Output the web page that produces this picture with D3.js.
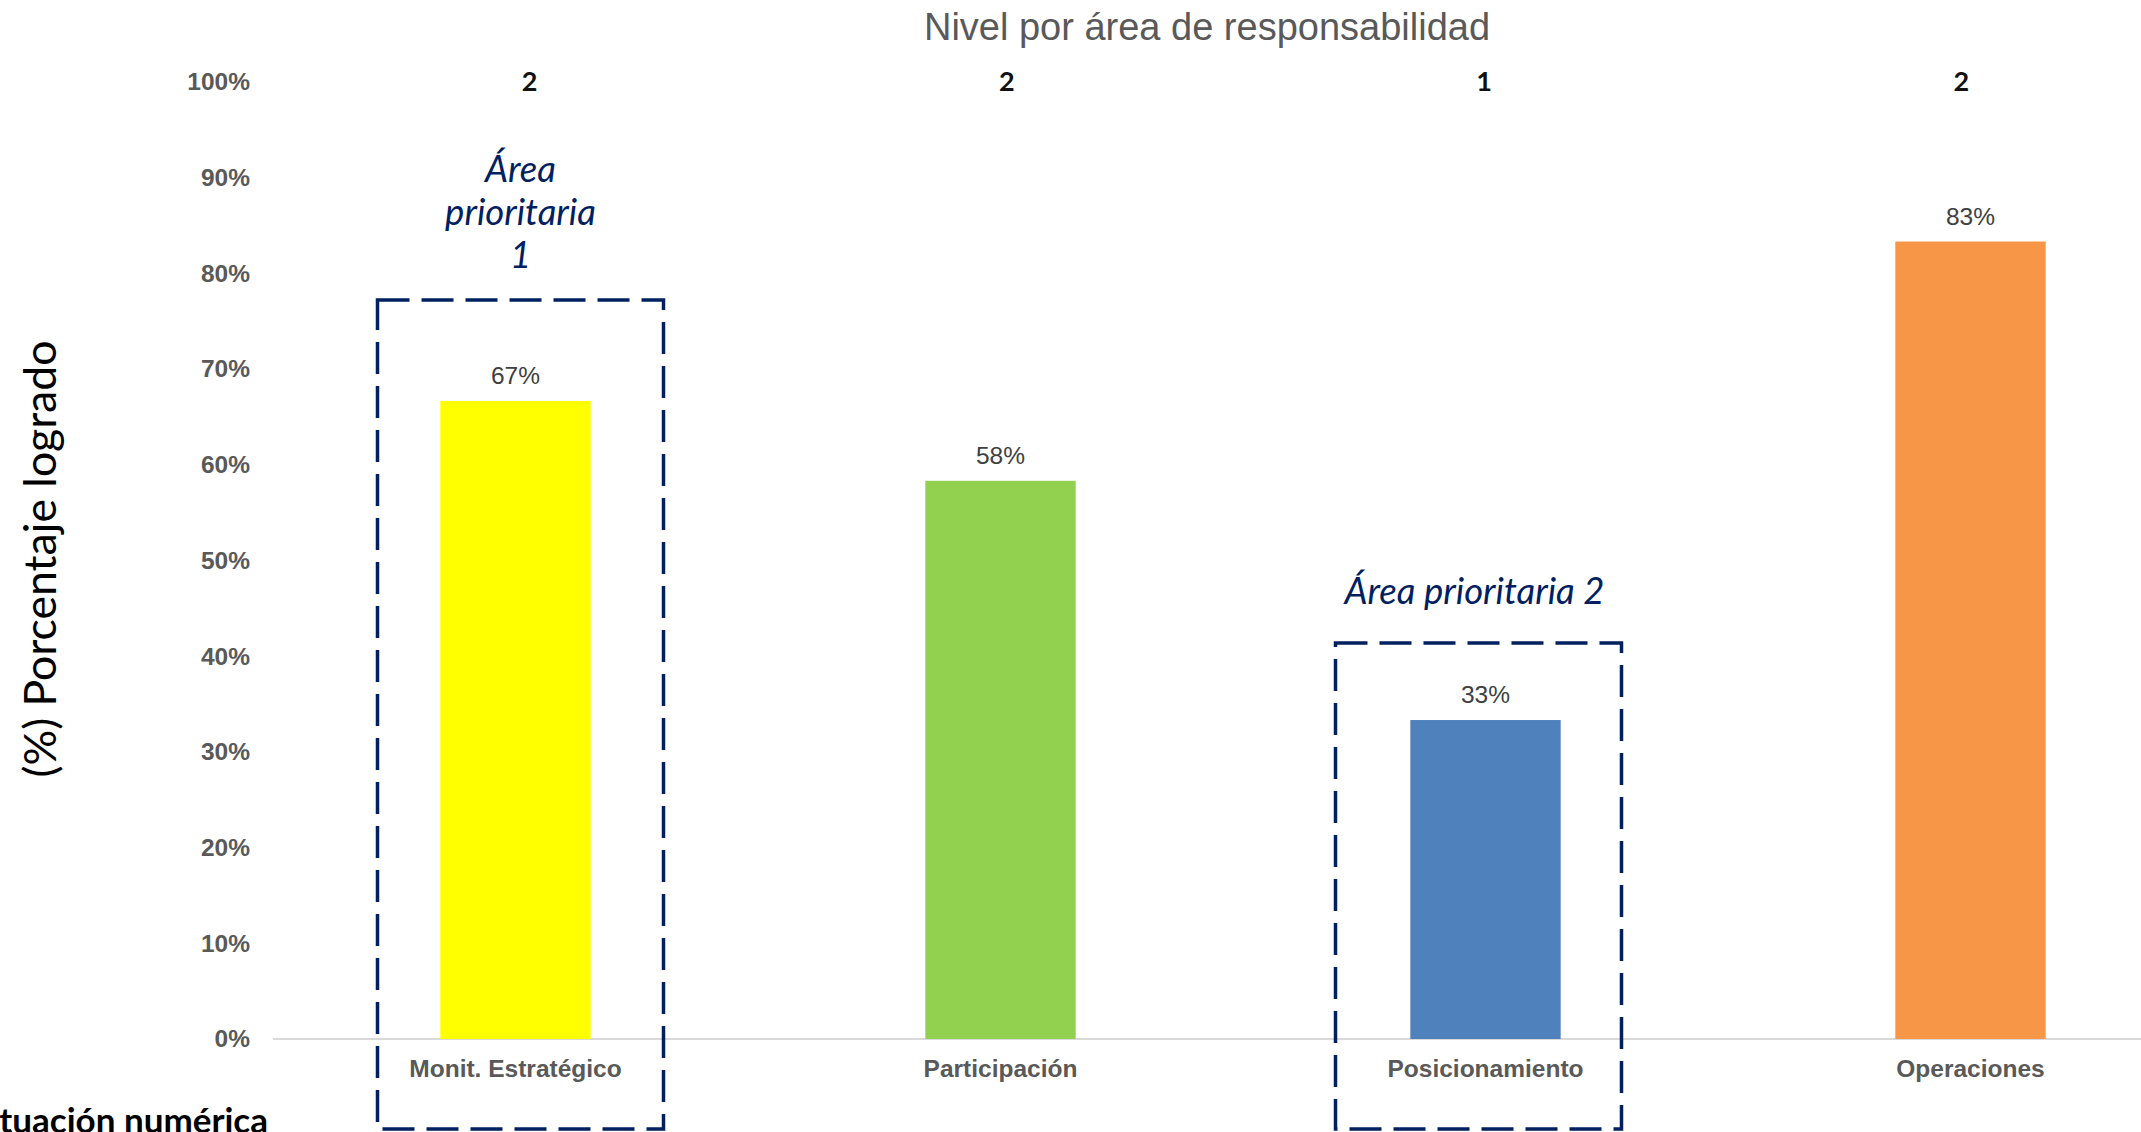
<html>
	<head>
		<meta charset="UTF-8">
		<title>Nivel por área de responsabilidad</title>
		<script src="https://d3js.org/d3.v7.min.js"></script>
		<style>html,body{width:100%;height:100%;margin:0;padding:0;overflow:hidden;background:#fff;}</style>
	</head>
	<body>
		<div id="container"></div>
		<script>
            // datos
            const categories = ['Monit. Estratégico', 'Participación', 'Posicionamiento', 'Operaciones']
            const values = [0.6667, 0.5833, 0.3333, 0.8333]
            const levels = ['2', '2', '1', '2']
            const colors = ['#ffff00', '#92d050', '#4f81bd', '#f79646']
            const yTicks = [0, 0.1, 0.2, 0.3, 0.4, 0.5, 0.6, 0.7, 0.8, 0.9, 1]
            const priorityAreas = [
                { cat: 'Monit. Estratégico', lines: ['Área', 'prioritaria', '1'] },
                { cat: 'Posicionamiento', lines: ['Área prioritaria 2'] }
            ]

            const width = 2141, height = 1132
            const chartFont = '"Liberation Sans", Arial, sans-serif'
            const noteFont = 'Lato, "Open Sans", sans-serif'

            let svg = d3.select('#container').append('svg')
                .attr('width', width)
                .attr('height', height)

            let x = d3.scaleBand()
                .domain(categories)
                .range([273, 2213])
                .paddingInner(0.69)
                .paddingOuter(0.345)

            // los números de nivel van en una tabla aparte, algo más estrecha
            let xLevel = d3.scaleBand()
                .domain(categories)
                .range([291, 2200])

            let y = d3.scaleLinear()
                .domain([0, 1])
                .range([1039, 82])

            // título
            svg.append('text')
                .attr('x', 1207).attr('y', 40)
                .attr('text-anchor', 'middle')
                .style('font-family', chartFont)
                .style('font-size', '38px')
                .style('fill', '#595959')
                .text('Nivel por área de responsabilidad')

            // eje y
            let yAxis = svg.append('g')
                .attr('transform', 'translate(250,0)')
                .call(d3.axisLeft(y).tickValues(yTicks).tickSize(0).tickPadding(0).tickFormat(d3.format('.0%')))
            yAxis.select('.domain').remove()
            yAxis.selectAll('text')
                .style('font-family', chartFont)
                .style('font-size', '24.5px')
                .style('font-weight', 'bold')
                .style('fill', '#595959')

            // línea base
            svg.append('line')
                .attr('x1', 273).attr('x2', width)
                .attr('y1', y(0)).attr('y2', y(0))
                .attr('stroke', '#d9d9d9')
                .attr('stroke-width', 2)

            // barras
            svg.selectAll('.bar')
                .data(categories)
                .enter()
                .append('rect')
                .attr('class', 'bar')
                .attr('x', d => x(d))
                .attr('width', x.bandwidth())
                .attr('y', (d, i) => y(values[i]))
                .attr('height', (d, i) => y(0) - y(values[i]))
                .attr('fill', (d, i) => colors[i])

            // etiquetas de datos
            svg.selectAll('.vlabel')
                .data(categories)
                .enter()
                .append('text')
                .attr('class', 'vlabel')
                .attr('x', d => x(d) + x.bandwidth() / 2)
                .attr('y', (d, i) => y(values[i]) - 17)
                .attr('text-anchor', 'middle')
                .style('font-family', chartFont)
                .style('font-size', '24.5px')
                .style('fill', '#404040')
                .text((d, i) => d3.format('.0%')(values[i]))

            // categorías
            svg.selectAll('.clabel')
                .data(categories)
                .enter()
                .append('text')
                .attr('class', 'clabel')
                .attr('x', d => x(d) + x.bandwidth() / 2)
                .attr('y', 1077)
                .attr('text-anchor', 'middle')
                .style('font-family', chartFont)
                .style('font-size', '24.5px')
                .style('font-weight', 'bold')
                .style('fill', '#595959')
                .text(d => d)

            // nivel arriba
            svg.selectAll('.level')
                .data(categories)
                .enter()
                .append('text')
                .attr('class', 'level')
                .attr('x', d => xLevel(d) + xLevel.bandwidth() / 2)
                .attr('y', 91)
                .attr('text-anchor', 'middle')
                .style('font-family', noteFont)
                .style('font-size', '27px')
                .style('font-weight', 'bold')
                .style('fill', '#111')
                .text((d, i) => levels[i])

            // título eje y
            svg.append('text')
                .attr('transform', 'translate(56,559) rotate(-90)')
                .attr('text-anchor', 'middle')
                .attr('textLength', 437)
                .attr('lengthAdjust', 'spacingAndGlyphs')
                .style('font-family', noteFont)
                .style('font-size', '44px')
                .style('fill', '#000')
                .text('(%) Porcentaje logrado')

            // áreas prioritarias
            const boxTops = [300, 643]
            const boxDx = [5, -7]
            priorityAreas.forEach((a, k) => {
                let cx = x(a.cat) + x.bandwidth() / 2 + boxDx[k]
                svg.append('rect')
                    .attr('x', cx - 143).attr('y', boxTops[k])
                    .attr('width', 286).attr('height', 1129 - boxTops[k])
                    .attr('fill', 'none')
                    .attr('stroke', '#002060')
                    .attr('stroke-width', 3.5)
                    .attr('stroke-dasharray', '32 12')
                let t = svg.append('text')
                    .attr('text-anchor', 'middle')
                    .style('font-family', noteFont)
                    .style('font-size', '36.5px')
                    .style('font-style', 'italic')
                    .style('fill', '#002060')
                const base = k === 0 ? 182 : 604
                a.lines.forEach((l, j) => {
                    t.append('tspan')
                        .attr('x', cx + (k === 0 ? 0 : -4))
                        .attr('y', base + j * 43)
                        .text(l)
                })
            })

            // texto inferior cortado
            svg.append('text')
                .attr('x', 268).attr('y', 1133)
                .attr('text-anchor', 'end')
                .style('font-family', noteFont)
                .style('font-size', '35px')
                .style('font-weight', 'bold')
                .style('fill', '#000')
                .text('Puntuación numérica')
        </script>
</body>
</html>
